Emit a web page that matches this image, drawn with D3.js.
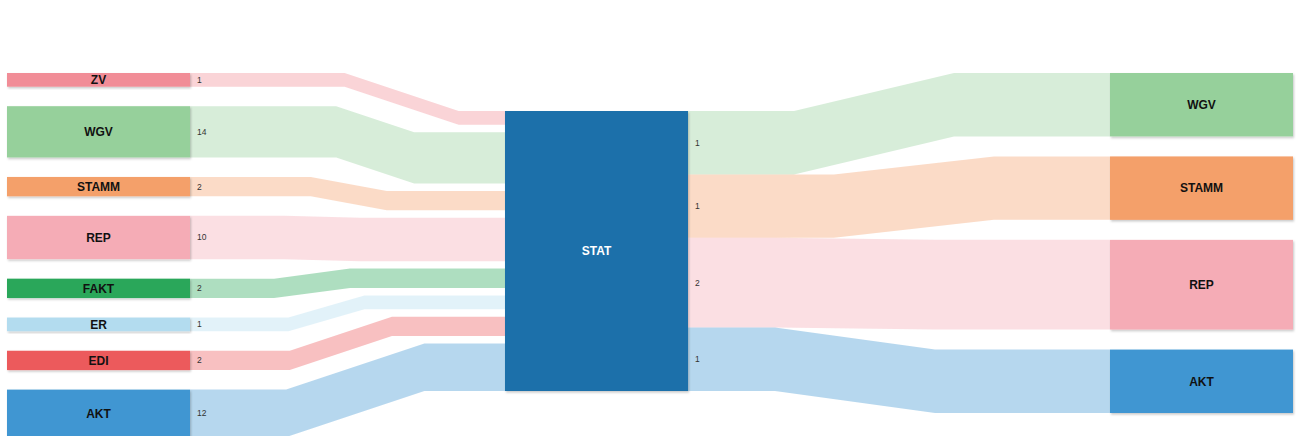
<!DOCTYPE html>
<html>
<head>
<meta charset="utf-8">
<script src="https://cdn.jsdelivr.net/npm/d3@7"></script>
<style>
  html, body { margin: 0; padding: 0; background: #fff; }
  svg { display: block; font-family: 'Liberation Sans', Arial, sans-serif; }
</style>
</head>
<body>
<div id="chart"></div>
<script>
// data
const sources = ['ZV', 'WGV', 'STAMM', 'REP', 'FAKT', 'ER', 'EDI', 'AKT']
const sourceValues = [1, 14, 2, 10, 2, 1, 2, 12]
const hub = 'STAT'
const targets = ['WGV', 'STAMM', 'REP', 'AKT']
const targetValues = [1, 1, 2, 1]

const width = 1296
const height = 436

const color = d3
  .scaleOrdinal()
  .domain(['ZV', 'WGV', 'STAMM', 'REP', 'FAKT', 'ER', 'EDI', 'AKT', 'STAT'])
  .range(['#f18d97', '#96d09b', '#f4a06b', '#f5acb6', '#2ba75a', '#b3dcef', '#ec5a5c', '#3f96d2', '#1b70aa'])

// layout settings
const nodeWidth = 183
const colX = d3.scaleOrdinal().domain([0, 1, 2]).range([7, 505, 1110])
const marginTop = 73
const leftGap = 19.5
const rightGap = 20
const hubTop = 111
const hubHeight = 280

const leftScale = d3.scaleSqrt().domain([0, 1]).range([0, 13.7])
const rightUnit = hubHeight / d3.sum(targetValues, v => Math.sqrt(v))
const rightScale = d3.scaleSqrt().domain([0, 1]).range([0, rightUnit])

// stack helper
const stack = (values, scale, y0, gap) => {
  let y = y0
  return values.map(v => {
    const h = scale(v)
    const d = { y0: y, y1: y + h, h }
    y += h + gap
    return d
  })
}

const leftNodes = stack(sourceValues, leftScale, marginTop, leftGap).map((d, i) => ({ ...d, name: sources[i], value: sourceValues[i] }))
const rightNodes = stack(targetValues, rightScale, marginTop, rightGap).map((d, i) => ({ ...d, name: targets[i], value: targetValues[i] }))

// incoming link slots on hub (spread over hub height)
const inSum = d3.sum(leftNodes, d => d.h)
const inGap = (hubHeight - inSum) / (leftNodes.length - 1)
const inSlots = stack(sourceValues, leftScale, hubTop, inGap)
// outgoing link slots on hub (no gaps)
const outSlots = stack(targetValues, rightScale, hubTop, 0)

const svg = d3.select('#chart').append('svg').attr('width', width).attr('height', height)

const defs = svg.append('defs')
defs
  .append('filter')
  .attr('id', 'shadow')
  .attr('x', '-5%')
  .attr('y', '-20%')
  .attr('width', '110%')
  .attr('height', '140%')
  .append('feDropShadow')
  .attr('dx', 1)
  .attr('dy', 1.5)
  .attr('stdDeviation', 1)
  .attr('flood-color', '#000')
  .attr('flood-opacity', 0.22)

const area = d3
  .area()
  .x(d => d.x)
  .y0(d => d.y)
  .y1(d => d.y + d.h)
  .curve(d3.curveLinear)

// band with flat ends and a straight diagonal part between xa and xb
const band = (x0, x1, ya, yb, h, xa, xb) =>
  area([
    { x: x0, y: ya, h },
    { x: xa, y: ya, h },
    { x: xb, y: yb, h },
    { x: x1, y: yb, h },
  ])

// where the diagonal sits: left side links going down bend late, going up bend early
const leftBend = dy => {
  const xc = dy > 0 ? 318 + 2.2 * dy : 300 - 1.2 * dy
  const hw = Math.max(38, 1.5 * Math.abs(dy))
  return [xc - hw, xc + hw]
}
const rightBend = dy => {
  const xc = dy < 0 ? 950 + 2 * dy : 855
  return [xc - 80, xc + 80]
}

/** =========================
 * links
 ========================= */
const linkGroup = svg.append('g').attr('class', 'links')

linkGroup
  .selectAll('.inLink')
  .data(leftNodes)
  .join('path')
  .attr('class', 'inLink')
  .attr('d', (d, i) => {
    const [xa, xb] = leftBend(inSlots[i].y0 - d.y0)
    return band(colX(0) + nodeWidth, colX(1), d.y0, inSlots[i].y0, d.h, xa, xb)
  })
  .attr('fill', d => color(d.name))
  .attr('fill-opacity', 0.38)

linkGroup
  .selectAll('.outLink')
  .data(rightNodes)
  .join('path')
  .attr('class', 'outLink')
  .attr('d', (d, i) => {
    const [xa, xb] = rightBend(d.y0 - outSlots[i].y0)
    return band(colX(1) + nodeWidth, colX(2), outSlots[i].y0, d.y0, d.h, xa, xb)
  })
  .attr('fill', d => color(d.name))
  .attr('fill-opacity', 0.38)

/** =========================
 * nodes
 ========================= */
const hubNode = { name: hub, y0: hubTop, y1: hubTop + hubHeight, h: hubHeight }
const allNodes = [
  ...leftNodes.map(d => ({ ...d, col: 0 })),
  { ...hubNode, col: 1 },
  ...rightNodes.map(d => ({ ...d, col: 2 })),
]

const nodeGroup = svg.append('g').attr('class', 'nodes')

nodeGroup
  .selectAll('rect')
  .data(allNodes)
  .join('rect')
  .attr('x', d => colX(d.col))
  .attr('y', d => d.y0)
  .attr('width', nodeWidth)
  .attr('height', d => d.h)
  .attr('fill', d => color(d.name))
  .attr('filter', 'url(#shadow)')

nodeGroup
  .selectAll('text')
  .data(allNodes)
  .join('text')
  .attr('x', d => colX(d.col) + nodeWidth / 2)
  .attr('y', d => d.y0 + d.h / 2)
  .attr('dy', '0.36em')
  .attr('text-anchor', 'middle')
  .style('font-size', '12px')
  .style('font-weight', 'bold')
  .style('fill', d => (d.name === hub ? '#fff' : '#111'))
  .text(d => d.name)

/** =========================
 * value labels
 ========================= */
const valueGroup = svg.append('g').attr('class', 'values').style('font-size', '8.5px').style('fill', '#333')

valueGroup
  .selectAll('.inValue')
  .data(leftNodes)
  .join('text')
  .attr('class', 'inValue')
  .attr('x', colX(0) + nodeWidth + 7)
  .attr('y', d => d.y0 + d.h / 2)
  .attr('dy', '0.35em')
  .text(d => d.value)

valueGroup
  .selectAll('.outValue')
  .data(rightNodes)
  .join('text')
  .attr('class', 'outValue')
  .attr('x', colX(1) + nodeWidth + 7)
  .attr('y', (d, i) => outSlots[i].y0 + outSlots[i].h / 2)
  .attr('dy', '0.35em')
  .text(d => d.value)
</script>
</body>
</html>
